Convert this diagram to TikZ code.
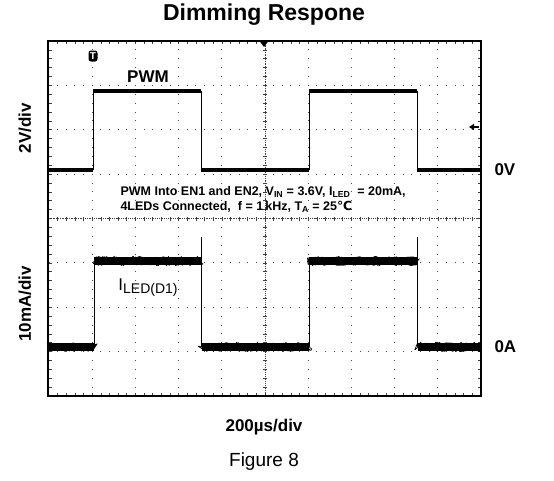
\documentclass[tikz,border=0pt]{standalone}
\usepackage{fontspec}
\setmainfont{Liberation Sans}
\newfontfamily\degfont{DejaVu Sans}
\usetikzlibrary{arrows.meta,decorations.pathmorphing}

\tikzset{
  hgrid/.style={line width=0.9pt, black!70, dash pattern=on 0.9pt off 7.74pt, dash phase=0.45pt},
  vgrid/.style={line width=0.9pt, black!70, dash pattern=on 0.9pt off 7.975pt, dash phase=0.45pt},
  axisline/.style={line width=0.7pt, black!75, dash pattern=on 0.7pt off 1.1pt},
  tick/.style={line width=0.6pt, black!75},
  edge/.style={line width=0.5pt, thin},
  level/.style={line width=3.2pt},
  band/.style={line width=7.5pt},
  noisy/.style={line width=0.7pt, line join=round, decorate,
    decoration={random steps, segment length=0.5pt, amplitude=4.8pt}},
  lbl/.style={font=\bfseries\fontsize{17}{17}\selectfont}
}

\begin{document}
\begin{tikzpicture}[x=1pt,y=-1pt]
\pgfmathsetseed{8}
\useasboundingbox (0,0) rectangle (554,480);

\node[font=\bfseries\fontsize{23}{23}\selectfont] (title) at (264,15) {Dimming Respone};

% graticule
\foreach \k in {1,...,7} \draw[hgrid] (49,41+44.375*\k) -- (481,41+44.375*\k);
\foreach \k in {1,...,9} \draw[vgrid] (49+43.2*\k,41) -- (49+43.2*\k,396);
\draw[axisline] (49,218.5) -- (481,218.5);
\draw[axisline] (265,41) -- (265,396);
\foreach \i in {1,...,49} {
  \draw[tick] (49+8.64*\i,216.5) -- (49+8.64*\i,220.5);
  \draw[tick] (49+8.64*\i,41) -- (49+8.64*\i,44);
  \draw[tick] (49+8.64*\i,393) -- (49+8.64*\i,396);
}
\foreach \j in {1,...,39} {
  \draw[tick] (263,41+8.875*\j) -- (267,41+8.875*\j);
  \draw[tick] (49,41+8.875*\j) -- (52,41+8.875*\j);
  \draw[tick] (478,41+8.875*\j) -- (481,41+8.875*\j);
}
\draw[line width=2.5pt] (48,41) rectangle (481,396);

% markers
\fill (259.5,41) -- (268.5,41) -- (264,47) -- cycle;
\node[fill=black, text=white, inner sep=0pt, minimum width=9pt, minimum height=11pt,
  rounded corners=2.5pt, font=\bfseries\fontsize{10}{10}\selectfont] (trig) at (93,56) {T};
\draw[line width=1.2pt, -{Triangle[length=5pt,width=6pt]}] (479,127) -- (469,127);

% PWM trace
\draw[edge] (93,170) -- (93,91) (201,91) -- (201,170) (309,170) -- (309,91) (417,91) -- (417,170);
\draw[level] (49,170) -- (93,170);
\draw[level] (93,91) -- (201,91);
\draw[level] (201,170) -- (309,170);
\draw[level] (309,91) -- (417,91);
\draw[level] (417,170) -- (480,170);
\node[lbl] (pwm) at (148,77) {PWM};

% LED current trace
\draw[edge] (94,347) -- (94,261) (201,237) -- (201,347) (309,347) -- (309,261) (417,237) -- (417,347);
\draw[band] (49,347) -- (94,347) (94,261) -- (201,261) (202,347) -- (309,347)
  (309,261) -- (417,261) (418,347) -- (480,347);
\draw[noisy] (49,347) -- (94,347);
\draw[noisy] (94,261) -- (201,261);
\draw[noisy] (202,347) -- (309,347);
\draw[noisy] (309,261) -- (417,261);
\draw[noisy] (418,347) -- (480,347);
\node[font=\fontsize{17}{17}\selectfont] (iled) at (148,288)
  {I\raisebox{-3pt}{\fontsize{14}{14}\selectfont LED(D1)}};

\node[anchor=west, align=left, font=\bfseries\fontsize{12.5}{15}\selectfont] (cond) at (117,199.5)
  {PWM Into EN1 and EN2, V\textsubscript{IN} = 3.6V, I\textsubscript{LED}\ \ = 20mA,\\
   4LEDs Connected,\ \ f = 1\,kHz, T\textsubscript{A}\ = 25{\degfont ℃}};

% scales
\node[lbl, rotate=90] (vdiv) at (25,128) {2V/div};
\node[lbl, rotate=90] (idiv) at (25,304) {10mA/div};
\node[lbl, anchor=west] (zv) at (491,170) {0V};
\node[lbl, anchor=west] (za) at (491,347) {0A};
\node[lbl] (tdiv) at (264,427) {200µs/div};
\node[font=\fontsize{19}{19}\selectfont] (fig) at (264,462) {Figure 8};
\end{tikzpicture}
\end{document}
